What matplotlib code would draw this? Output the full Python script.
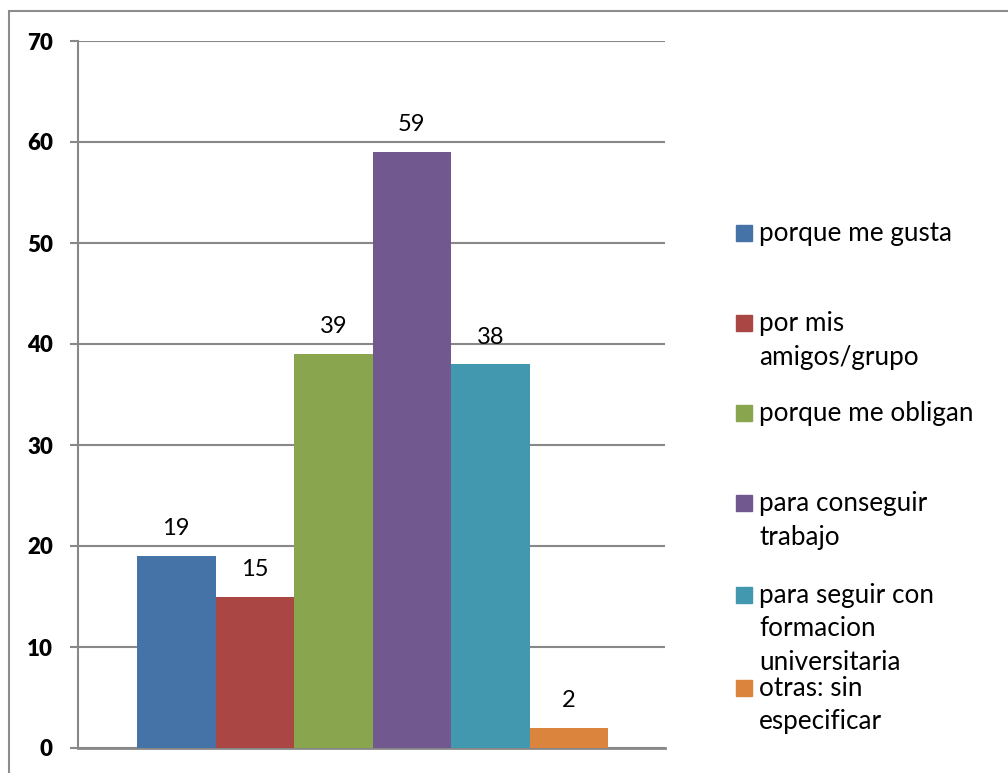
import matplotlib
matplotlib.use("Agg")
import matplotlib.pyplot as plt
from matplotlib.patches import Rectangle

categories = ["porque me gusta", "por mis\namigos/grupo", "porque me obligan",
              "para conseguir\ntrabajo", "para seguir con\nformacion\nuniversitaria",
              "otras: sin\nespecificar"]
values = [19, 15, 39, 59, 38, 2]
colors = ["#4572A7", "#AA4643", "#89A54E", "#71588F", "#4198AF", "#DB843D"]
yticks = [0, 10, 20, 30, 40, 50, 60, 70]

W, H = 1008, 773
fig = plt.figure(figsize=(W / 100, H / 100), dpi=100)
fig.patch.set_facecolor("white")
plt.rcParams['font.family'] = ['Lato', 'DejaVu Sans']

# outer border
fig.patches.append(Rectangle((9 / W, -0.1), 1.2, 1 - 11 / H + 0.1, transform=fig.transFigure,
                             fill=False, edgecolor="#8c8c8c", linewidth=1.5, zorder=0))

ax = fig.add_axes([78 / W, 1 - 748 / H, (665 - 78) / W, (748 - 41) / H])
ax.set_facecolor("none")
x = list(range(len(values)))
ax.bar(x, values, width=1.0, color=colors, zorder=3)
ax.set_xlim(-0.5 - (137 - 78) / 78.5, -0.5 + (665 - 137) / 78.5)
ax.set_ylim(0, 70)
ax.set_yticks(yticks)
ax.set_yticklabels([str(t) for t in yticks], fontsize=16, fontweight="heavy")
ax.tick_params(axis="y", length=6, width=1.5, color="#888888", pad=12)
ax.tick_params(axis="x", bottom=False, labelbottom=False)
ax.yaxis.grid(True, color="#888888", linewidth=1.5, zorder=0)
ax.set_axisbelow(True)
for s in ["top", "right"]:
    ax.spines[s].set_visible(False)
ax.spines["left"].set_color("#888888")
ax.spines["left"].set_linewidth(1.5)
ax.spines["bottom"].set_color("#888888")
ax.spines["bottom"].set_linewidth(2)

for xi, v in zip(x, values):
    ax.annotate(str(v), (xi, v), xytext=(0, 12), textcoords="offset points",
                ha="center", va="bottom", fontsize=17)

# legend
marker_y = [233, 323, 413, 503, 595, 688]
for yy, c, lab in zip(marker_y, colors, categories):
    fig.patches.append(Rectangle((736 / W, 1 - (yy + 8) / H), 16 / W, 16 / H,
                                 transform=fig.transFigure, color=c))
    for i, line in enumerate(lab.split("\n")):
        fig.text(759 / W, 1 - (yy + 8 + i * 33.5) / H, line, fontsize=18.8,
                 va="baseline", ha="left")

fig.savefig("out.png", dpi=100)
